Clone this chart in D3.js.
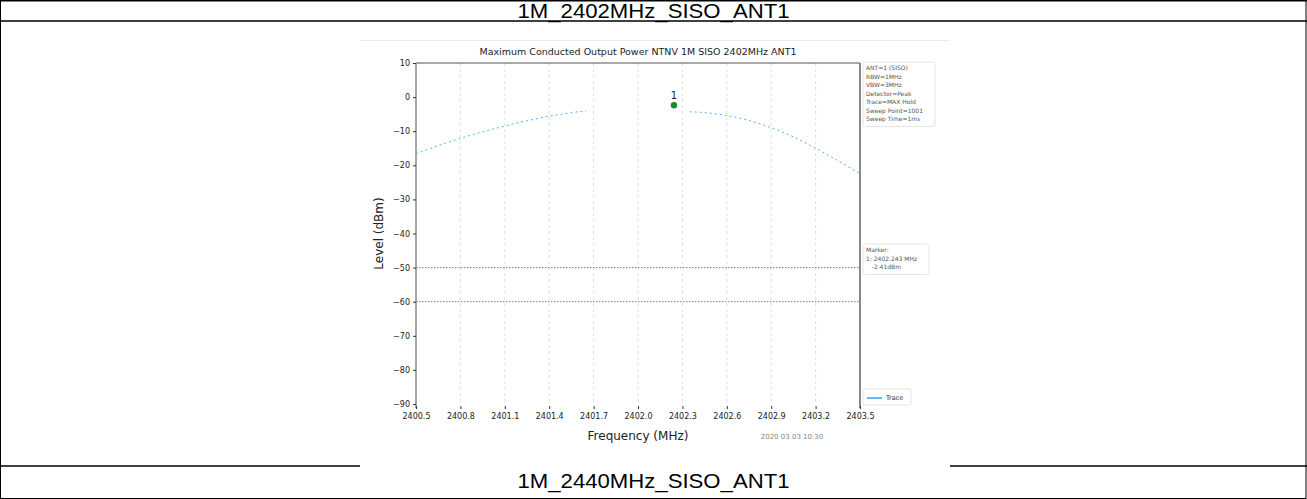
<!DOCTYPE html>
<html><head><meta charset="utf-8">
<script src="https://cdn.jsdelivr.net/npm/d3@7"></script>
<style>body{margin:0;background:#fff}svg{display:block}</style>
</head><body>
<svg id="c" width="1307" height="499"></svg>
<script>
const headerTop = "1M_2402MHz_SISO_ANT1";
const headerBottom = "1M_2440MHz_SISO_ANT1";
const chartTitle = "Maximum Conducted Output Power NTNV 1M SISO 2402MHz ANT1";
const xTicks = [2400.5,2400.8,2401.1,2401.4,2401.7,2402.0,2402.3,2402.6,2402.9,2403.2,2403.5];
const yTicks = [10,0,-10,-20,-30,-40,-50,-60,-70,-80,-90];
const limitLines = [-50,-60];
const traceLeftFreq = [2400.5,2400.6,2400.7,2400.8,2400.9,2401.0,2401.1,2401.2,2401.3,2401.4,2401.5,2401.6,2401.65];
const traceLeftLevel = [-16.6,-15.0,-13.5,-12.1,-10.8,-9.6,-8.5,-7.4,-6.5,-5.6,-4.9,-4.3,-4.1];
const traceRightFreq = [2402.35,2402.4,2402.5,2402.6,2402.7,2402.8,2402.9,2403.0,2403.1,2403.2,2403.3,2403.4,2403.5];
const traceRightLevel = [-4.3,-4.4,-4.8,-5.4,-6.3,-7.5,-9.0,-10.7,-12.7,-15.0,-17.4,-19.9,-22.5];
const markerFreq = [2402.243];
const markerLevel = [-2.4];
const settingsLines = ["ANT=1 (SISO)","RBW=1MHz","VBW=3MHz","Detector=Peak","Trace=MAX Hold","Sweep Point=1001","Sweep Time=1ms"];
const markerLines = ["Marker:","1: 2402.243 MHz","   -2.41dBm"];
const timestamp = "2020 03 03 10:30";

const svg = d3.select("#c");
const W = 1307;
// table
svg.append("rect").attr("x",0.5).attr("y",0.5).attr("width",W-1.5).attr("height",498).attr("fill","none").attr("stroke","#000").attr("stroke-width",1);
svg.append("line").attr("x1",0).attr("x2",W).attr("y1",0.75).attr("y2",0.75).attr("stroke","#000").attr("stroke-width",1.5);
svg.append("line").attr("x1",0).attr("x2",W).attr("y1",21).attr("y2",21).attr("stroke","#000").attr("stroke-width",1.5);
svg.append("line").attr("x1",0).attr("x2",W).attr("y1",466).attr("y2",466).attr("stroke","#000").attr("stroke-width",1.5);
svg.append("text").attr("x",W/2).attr("y",18).attr("text-anchor","middle").attr("font-family","Liberation Sans, Arial").attr("font-size",21).attr("textLength",272).attr("lengthAdjust","spacingAndGlyphs").text(headerTop);
svg.append("text").attr("x",W/2).attr("y",488).attr("text-anchor","middle").attr("font-family","Liberation Sans, Arial").attr("font-size",21).attr("textLength",272).attr("lengthAdjust","spacingAndGlyphs").text(headerBottom);
// image area
svg.append("rect").attr("x",360).attr("y",40).attr("width",590).attr("height",430).attr("fill","#fff");
svg.append("line").attr("x1",360).attr("x2",950).attr("y1",40.5).attr("y2",40.5).attr("stroke","#ececec");

const L=416,R=860,T=63,B=404;
const x = d3.scaleLinear().domain([2400.5,2403.5]).range([L,R]);
const y = d3.scaleLinear().domain([-90,10]).range([B,T]);
const g = svg.append("g").attr("font-family","DejaVu Sans, sans-serif");

// vertical grid
g.selectAll(".vg").data(xTicks.slice(1,-1)).join("line")
 .attr("x1",d=>x(d)).attr("x2",d=>x(d)).attr("y1",T).attr("y2",B)
 .attr("stroke","#d8d8d8").attr("stroke-width",0.8).attr("stroke-dasharray","3,3");
// limit lines
g.selectAll(".ll").data(limitLines).join("line")
 .attr("x1",L).attr("x2",R).attr("y1",d=>y(d)).attr("y2",d=>y(d))
 .attr("stroke","#555").attr("stroke-width",0.8).attr("stroke-dasharray","1.5,1.5");
// spines
g.append("line").attr("x1",L).attr("x2",R).attr("y1",T).attr("y2",T).attr("stroke","#555").attr("stroke-width",1.2);
g.append("line").attr("x1",L).attr("x2",L).attr("y1",T).attr("y2",B+4).attr("stroke","#888").attr("stroke-width",1.5);
g.append("line").attr("x1",R).attr("x2",R).attr("y1",T).attr("y2",B+4).attr("stroke","#888").attr("stroke-width",2);

// axes
const ya = d3.axisLeft(y).tickValues(yTicks).tickSize(3).tickFormat(d=>d<0?"\u2212"+Math.abs(d):d);
const yg = g.append("g").attr("transform",`translate(${L},0)`).call(ya);
yg.select(".domain").remove();
yg.selectAll("text").attr("font-size",8).attr("fill","#222").attr("font-family","DejaVu Sans, sans-serif");
yg.selectAll("line").attr("stroke","#333");
const xa = d3.axisBottom(x).tickValues(xTicks).tickSize(3).tickFormat(d3.format(".1f"));
const xg = g.append("g").attr("transform",`translate(0,${B+2})`).call(xa);
xg.select(".domain").remove();
xg.selectAll("text").attr("font-size",8).attr("fill","#222").attr("dy","0.85em").attr("font-family","DejaVu Sans, sans-serif");
xg.selectAll("line").attr("stroke","#333");

// trace
const line = d3.line().x(d=>x(d[0])).y(d=>y(d[1])).curve(d3.curveMonotoneX);
[[traceLeftFreq,traceLeftLevel],[traceRightFreq,traceRightLevel]].forEach(([f,v])=>{
  g.append("path").datum(f.map((d,i)=>[d,v[i]])).attr("d",line)
   .attr("fill","none").attr("stroke","#58b0f4").attr("stroke-width",1).attr("stroke-dasharray","2,3");
});
// marker
const mk = markerFreq.map((d,i)=>[d,markerLevel[i]]);
g.selectAll(".mk").data(mk).join("circle").attr("cx",d=>x(d[0])).attr("cy",d=>y(d[1])).attr("r",3.2).attr("fill","#1c8a2a");
g.selectAll(".mkl").data(mk).join("text").attr("x",d=>x(d[0])).attr("y",d=>y(d[1])-6).attr("text-anchor","middle").attr("font-size",10).attr("fill","#222").text((d,i)=>i+1);

// title & labels
g.append("text").attr("x",(L+R)/2).attr("y",55).attr("text-anchor","middle").attr("font-size",9.5).attr("fill","#222").text(chartTitle);
g.append("text").attr("x",(L+R)/2).attr("y",440).attr("text-anchor","middle").attr("font-size",12).attr("fill","#222").text("Frequency (MHz)");
g.append("text").attr("transform",`translate(383,${(T+B)/2}) rotate(-90)`).attr("text-anchor","middle").attr("font-size",12).attr("fill","#222").text("Level (dBm)");
g.append("text").attr("x",792).attr("y",439).attr("text-anchor","middle").attr("font-size",7).attr("fill","#888").text(timestamp);

// settings box
function box(x0,y0,w,lines){
  const h = lines.length*8.5+5;
  g.append("rect").attr("x",x0).attr("y",y0).attr("width",w).attr("height",h).attr("fill","#fff").attr("stroke","#ddd").attr("stroke-width",0.8).attr("rx",1.5);
  g.selectAll(null).data(lines).join("text").attr("x",x0+3).attr("y",(d,i)=>y0+8+i*8.5).attr("font-size",6).attr("fill","#555").attr("xml:space","preserve").style("white-space","pre").text(d=>d);
}
box(863,62,72,settingsLines);
box(863,244,66,markerLines);
// legend
g.append("rect").attr("x",863).attr("y",389).attr("width",48).attr("height",16).attr("fill","#fff").attr("stroke","#ddd").attr("stroke-width",0.8).attr("rx",1.5);
g.append("line").attr("x1",867).attr("x2",882).attr("y1",398).attr("y2",398).attr("stroke","#1f8ff0").attr("stroke-width",1.3);
g.append("text").attr("x",886).attr("y",400).attr("font-size",6.5).attr("fill","#333").text("Trace");
</script>
</body></html>
